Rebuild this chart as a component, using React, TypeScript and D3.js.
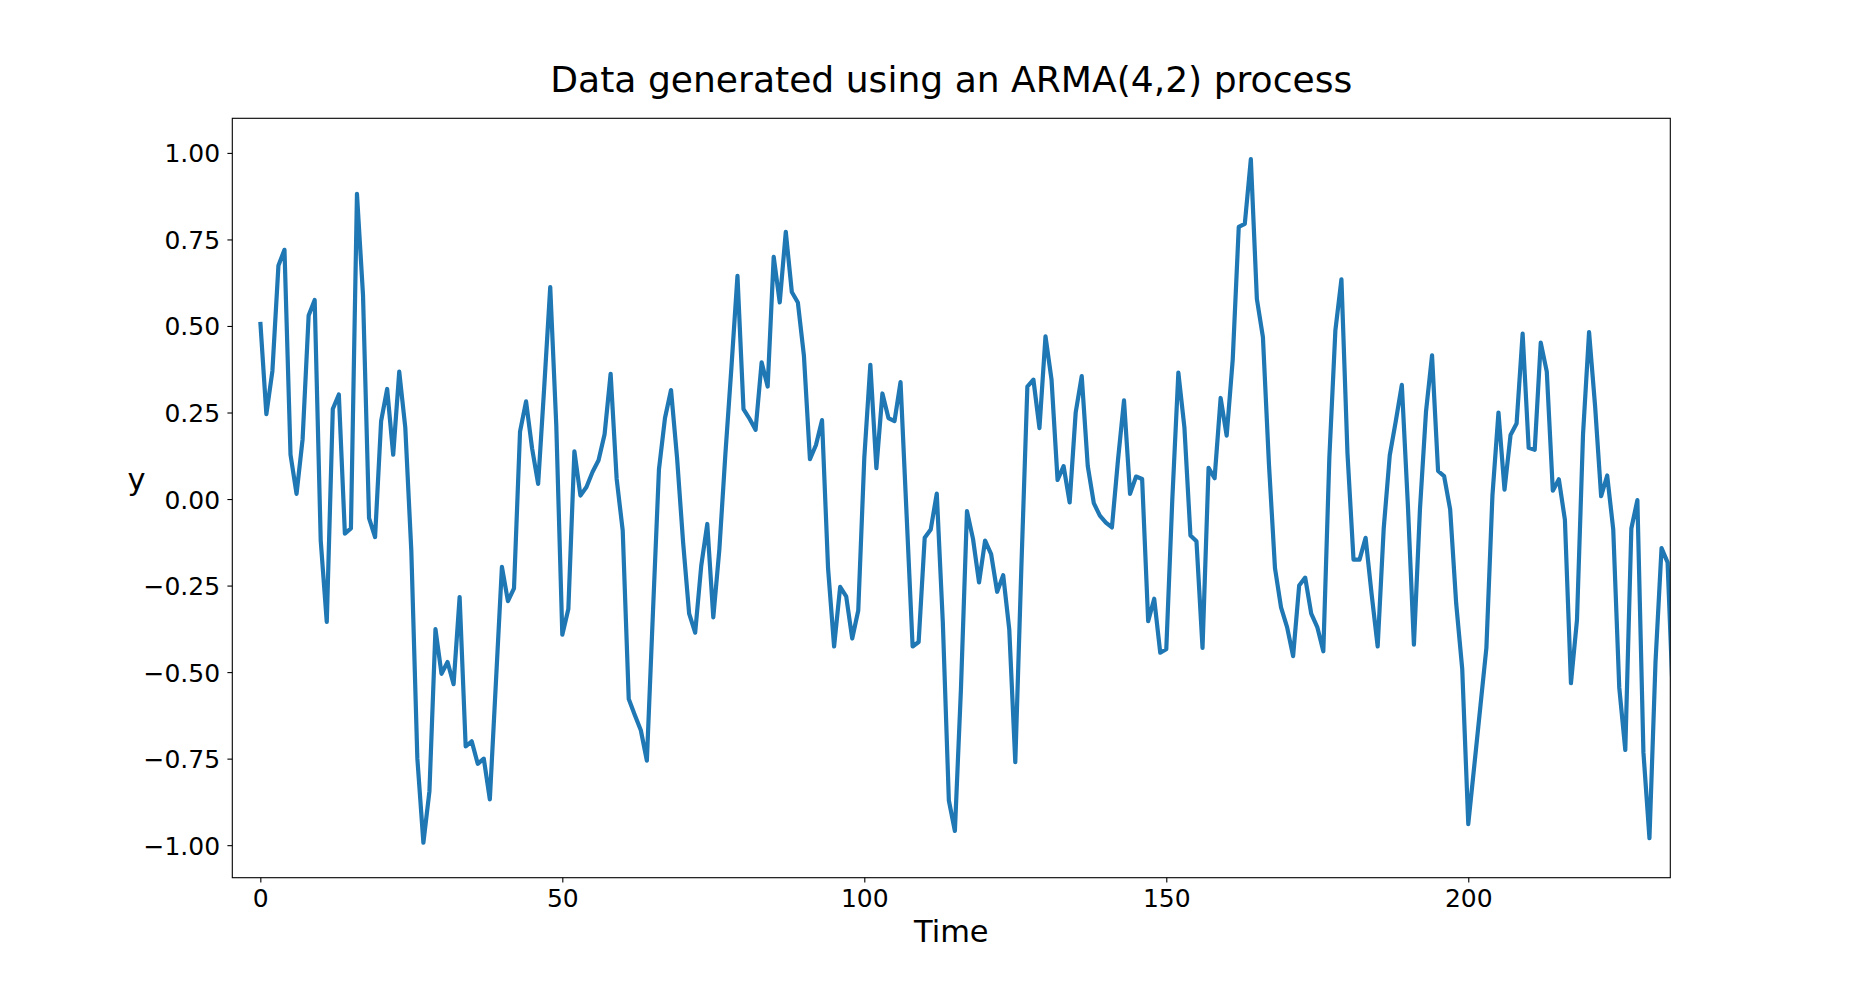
import { useEffect, useRef } from 'react';
import * as d3 from 'd3';

// values, one per time step (t = 0 .. 234)
const values: number[] = [
  0.512, 0.245, 0.370, 0.675, 0.720, 0.128, 0.015, 0.173, 0.530, 0.575,
  -0.120, -0.355, 0.260, 0.302, -0.100, -0.085, 0.882, 0.590, -0.055, -0.110,
  0.225, 0.318, 0.128, 0.368, 0.207, -0.150, -0.750, -0.993, -0.844, -0.376,
  -0.505, -0.471, -0.535, -0.283, -0.715, -0.700, -0.765, -0.750, -0.868, -0.532,
  -0.196, -0.295, -0.258, 0.195, 0.282, 0.146, 0.044, 0.322, 0.612, 0.214,
  -0.392, -0.318, 0.138, 0.010, 0.035, 0.078, 0.112, 0.187, 0.362, 0.058,
  -0.091, -0.578, -0.624, -0.668, -0.756, -0.330, 0.085, 0.234, 0.315, 0.119,
  -0.125, -0.331, -0.386, -0.193, -0.072, -0.342, -0.146, 0.130, 0.380, 0.645,
  0.260, 0.232, 0.200, 0.395, 0.325, 0.700, 0.568, 0.772, 0.598, 0.568,
  0.415, 0.115, 0.156, 0.228, -0.200, -0.426, -0.254, -0.281, -0.403, -0.322,
  0.119, 0.388, 0.089, 0.305, 0.234, 0.225, 0.338, -0.044, -0.426, -0.413,
  -0.112, -0.088, 0.016, -0.356, -0.871, -0.959, -0.550, -0.035, -0.115, -0.241,
  -0.120, -0.159, -0.268, -0.220, -0.376, -0.760, -0.200, 0.325, 0.345, 0.205,
  0.470, 0.345, 0.055, 0.095, -0.010, 0.250, 0.355, 0.095, -0.012, -0.048,
  -0.068, -0.082, 0.112, 0.285, 0.015, 0.065, 0.058, -0.353, -0.288, -0.444,
  -0.434, 0.000, 0.365, 0.207, -0.105, -0.122, -0.430, 0.090, 0.060, 0.292,
  0.183, 0.403, 0.786, 0.795, 0.982, 0.578, 0.468, 0.100, -0.200, -0.313,
  -0.370, -0.454, -0.250, -0.227, -0.331, -0.370, -0.440, 0.120, 0.488, 0.635,
  0.132, -0.175, -0.175, -0.112, -0.275, -0.426, -0.085, 0.126, 0.225, 0.330,
  -0.017, -0.421, -0.030, 0.252, 0.415, 0.081, 0.066, -0.030, -0.302, -0.491,
  -0.939, -0.770, -0.600, -0.430, 0.010, 0.250, 0.027, 0.185, 0.218, 0.478,
  0.148, 0.142, 0.452, 0.368, 0.024, 0.057, -0.060, -0.532, -0.349, 0.187,
  0.482, 0.268, 0.008, 0.068, -0.087, -0.545, -0.725, -0.085, -0.003, -0.732,
  -0.980, -0.471, -0.142, -0.183, -0.630,
];

const xTicks = [0, 50, 100, 150, 200];
const yTicks = [-1, -0.75, -0.5, -0.25, 0, 0.25, 0.5, 0.75, 1];
const xDomain: [number, number] = [-4.64, 233.45];
const yDomain: [number, number] = [-1.094, 1.1];

const titleText = 'Data generated using an ARMA(4,2) process';
const xLabelText = 'Time';
const yLabelText = 'y';

export default function App() {
  const svgRef = useRef<SVGSVGElement>(null);

  useEffect(() => {
    if (!svgRef.current) return;
    document.body.style.margin = '0';

    const W = 1855;
    const H = 986;
    const margin = { top: 118.3, right: W - 1670.3, bottom: H - 877.7, left: 232.3 };
    const width = W - margin.left - margin.right;
    const height = H - margin.top - margin.bottom;
    const font = '"DejaVu Sans", sans-serif';

    d3.select(svgRef.current).selectAll('*').remove();

    const svg = d3.select(svgRef.current)
      .attr('width', W)
      .attr('height', H);

    svg.append('rect')
      .attr('width', W)
      .attr('height', H)
      .attr('fill', '#fff');

    const g = svg.append('g')
      .attr('transform', `translate(${margin.left},${margin.top})`);

    const x = d3.scaleLinear().domain(xDomain).range([0, width]);
    const y = d3.scaleLinear().domain(yDomain).range([height, 0]);

    // clip so the tail of the series is cut at the right spine
    g.append('clipPath')
      .attr('id', 'plot-clip')
      .append('rect')
      .attr('width', width)
      .attr('height', height);

    const line = d3.line<number>()
      .x((_, i) => x(i))
      .y(d => y(d));

    g.append('path')
      .datum(values)
      .attr('clip-path', 'url(#plot-clip)')
      .attr('fill', 'none')
      .attr('stroke', '#1f77b4')
      .attr('stroke-width', 4.2)
      .attr('stroke-linejoin', 'round')
      .attr('stroke-linecap', 'butt')
      .attr('d', line);

    // frame
    g.append('rect')
      .attr('width', width)
      .attr('height', height)
      .attr('fill', 'none')
      .attr('stroke', '#000')
      .attr('stroke-width', 1.1);

    // x axis
    const xAxis = g.append('g')
      .attr('transform', `translate(0,${height})`)
      .call(d3.axisBottom(x).tickValues(xTicks).tickSize(4.9).tickPadding(4.9).tickFormat(d3.format('d')));
    xAxis.select('.domain').remove();
    xAxis.selectAll('line').attr('stroke', '#000').attr('stroke-width', 1.1);
    xAxis.selectAll('text')
      .attr('font-family', font)
      .attr('font-size', 25)
      .attr('fill', '#000')
      .attr('dy', null)
      .attr('y', 29);

    // y axis
    const fmt = d3.format('.2f');
    const yAxis = g.append('g')
      .call(d3.axisLeft(y).tickValues(yTicks).tickSize(4.9).tickPadding(7.3)
        .tickFormat(d => fmt(d as number).replace('-', '\u2212')));
    yAxis.select('.domain').remove();
    yAxis.selectAll('line').attr('stroke', '#000').attr('stroke-width', 1.1);
    yAxis.selectAll('text')
      .attr('font-family', font)
      .attr('font-size', 25)
      .attr('fill', '#000')
      .attr('dy', '0.36em');

    // title and labels
    svg.append('text')
      .attr('x', margin.left + width / 2)
      .attr('y', 91.7)
      .attr('text-anchor', 'middle')
      .attr('font-family', font)
      .attr('font-size', 36.1)
      .text(titleText);

    svg.append('text')
      .attr('x', margin.left + width / 2)
      .attr('y', 941.7)
      .attr('text-anchor', 'middle')
      .attr('font-family', font)
      .attr('font-size', 30.5)
      .text(xLabelText);

    svg.append('text')
      .attr('x', 136.5)
      .attr('y', 490)
      .attr('text-anchor', 'middle')
      .attr('font-family', font)
      .attr('font-size', 30.5)
      .text(yLabelText);
  }, []);

  return <svg ref={svgRef} style={{ display: 'block' }}></svg>;
}
